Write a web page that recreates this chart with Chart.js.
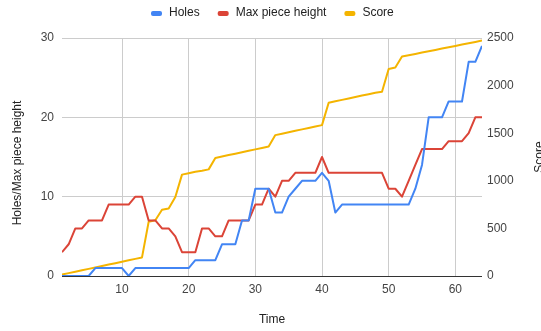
<!DOCTYPE html>
<html>
<head>
<meta charset="utf-8">
<script src="https://cdn.jsdelivr.net/npm/chart.js@4/dist/chart.umd.min.js"></script>
<style>
  html, body { margin: 0; padding: 0; background: #fff; }
  canvas { display: block; }
</style>
</head>
<body>
<canvas id="chart" width="541" height="331"></canvas>
<script>
// Time steps
const times = [1,2,3,4,5,6,7,8,9,10,11,12,13,14,15,16,17,18,19,20,21,22,23,24,25,26,27,28,29,30,31,32,
  33,34,35,36,37,38,39,40,41,42,43,44,45,46,47,48,49,50,51,52,53,54,55,56,57,58,59,60,61,62,63,64];

// Holes in the stack
const holes = [0,0,0,0,0,1,1,1,1,1,0,1,1,1,1,1,1,1,1,1,2,2,2,2,4,4,4,7,7,11,11,11,
  8,8,10,11,12,12,12,13,12,8,9,9,9,9,9,9,9,9,9,9,9,11,14,20,20,20,22,22,22,27,27,29];

// Highest piece in the stack
const maxHeight = [3,4,6,6,7,7,7,9,9,9,9,10,10,7,7,6,6,5,3,3,3,6,6,5,5,7,7,7,7,9,9,11,
  10,12,12,13,13,13,13,15,13,13,13,13,13,13,13,13,13,11,11,10,12,14,16,16,16,16,17,17,17,18,20,20];

// Running score
const score = [15,30,45,60,75,90,105,120,135,150,165,180,195,570,585,695,710,830,1065,1080,1095,1105,1120,1240,
  1255,1270,1285,1300,1315,1330,1345,1360,1480,1495,1510,1525,1540,1555,1570,1585,1820,1835,1850,1865,1880,1895,
  1910,1925,1935,2175,2190,2305,2319,2333,2347,2361,2375,2389,2403,2417,2431,2445,2459,2473];

const xTicks = [10,20,30,40,50,60];
const leftTicks = [0,10,20,30];
const rightTicks = [0,500,1000,1500,2000,2500];
const seriesNames = ['Holes', 'Max piece height', 'Score'];
const colors = ['#4285F4', '#DB4437', '#F4B400'];

const FONT = "'Liberation Sans', Arial, sans-serif";

const toPoints = (vals) => times.map((t, i) => ({ x: t, y: vals[i] }));

// Legend row across the top
const topLegend = {
  id: 'topLegend',
  afterDraw(chart) {
    const ctx = chart.ctx;
    ctx.save();
    ctx.font = '12px ' + FONT;
    ctx.textBaseline = 'middle';
    let x = 151;
    const y = 13;
    seriesNames.forEach((name, i) => {
      ctx.fillStyle = colors[i];
      ctx.beginPath();
      ctx.roundRect(x, y - 2, 11, 5, 2);
      ctx.fill();
      x += 18;
      ctx.fillStyle = '#222';
      ctx.textAlign = 'left';
      ctx.fillText(name, x, y);
      x += ctx.measureText(name).width + 18;
    });
    ctx.restore();
  }
};

// Axis titles
const axisTitles = {
  id: 'axisTitles',
  afterDraw(chart) {
    const ctx = chart.ctx;
    const area = chart.chartArea;
    ctx.save();
    ctx.font = '12px ' + FONT;
    ctx.fillStyle = '#222';
    ctx.textAlign = 'center';
    ctx.textBaseline = 'middle';
    ctx.fillText('Time', (area.left + area.right) / 2, 320);

    ctx.save();
    ctx.translate(18, (area.top + area.bottom) / 2 + 6);
    ctx.rotate(-Math.PI / 2);
    ctx.fillText('Holes/Max piece height', 0, 0);
    ctx.restore();

    ctx.save();
    ctx.translate(540, (area.top + area.bottom) / 2);
    ctx.rotate(-Math.PI / 2);
    ctx.fillText('Score', 0, 0);
    ctx.restore();
    ctx.restore();
  }
};

new Chart(document.getElementById('chart'), {
  type: 'line',
  data: {
    datasets: [
      { label: seriesNames[0], data: toPoints(holes), borderColor: colors[0], backgroundColor: colors[0], yAxisID: 'y', order: 1 },
      { label: seriesNames[1], data: toPoints(maxHeight), borderColor: colors[1], backgroundColor: colors[1], yAxisID: 'y', order: 2 },
      { label: seriesNames[2], data: toPoints(score), borderColor: colors[2], backgroundColor: colors[2], yAxisID: 'y2', order: 3 }
    ]
  },
  options: {
    responsive: false,
    animation: false,
    devicePixelRatio: 1,
    layout: { padding: { top: 38, left: 0, right: 0, bottom: 0 } },
    elements: {
      line: { borderWidth: 2, tension: 0, borderJoinStyle: 'round' },
      point: { radius: 0, hoverRadius: 0 }
    },
    plugins: {
      legend: { display: false },
      tooltip: { enabled: false }
    },
    scales: {
      x: {
        type: 'linear',
        min: 1,
        max: 64,
        afterBuildTicks(scale) { scale.ticks = xTicks.map(v => ({ value: v })); },
        afterFit(scale) { scale.height = 55; },
        grid: { color: '#cccccc', drawTicks: false, lineWidth: 1 },
        border: { display: false },
        ticks: { color: '#444', font: { family: FONT, size: 12 }, padding: 6, maxRotation: 0, callback: (v) => String(v) }
      },
      y: {
        position: 'left',
        min: 0,
        max: 30,
        afterBuildTicks(scale) { scale.ticks = leftTicks.map(v => ({ value: v })); },
        afterFit(scale) { scale.width = 62; },
        grid: {
          color: (c) => (c.tick && c.tick.value === 0 ? '#333333' : '#cccccc'),
          drawTicks: false,
          lineWidth: 1
        },
        border: { display: false },
        ticks: { color: '#444', font: { family: FONT, size: 12 }, padding: 8, callback: (v) => String(v) }
      },
      y2: {
        position: 'right',
        min: 0,
        max: 2500,
        afterBuildTicks(scale) { scale.ticks = rightTicks.map(v => ({ value: v })); },
        afterFit(scale) { scale.width = 59; },
        grid: { drawOnChartArea: false, drawTicks: false },
        border: { display: false },
        ticks: { color: '#444', font: { family: FONT, size: 12 }, padding: 5, callback: (v) => String(v) }
      }
    }
  },
  plugins: [topLegend, axisTitles]
});
</script>
</body>
</html>
